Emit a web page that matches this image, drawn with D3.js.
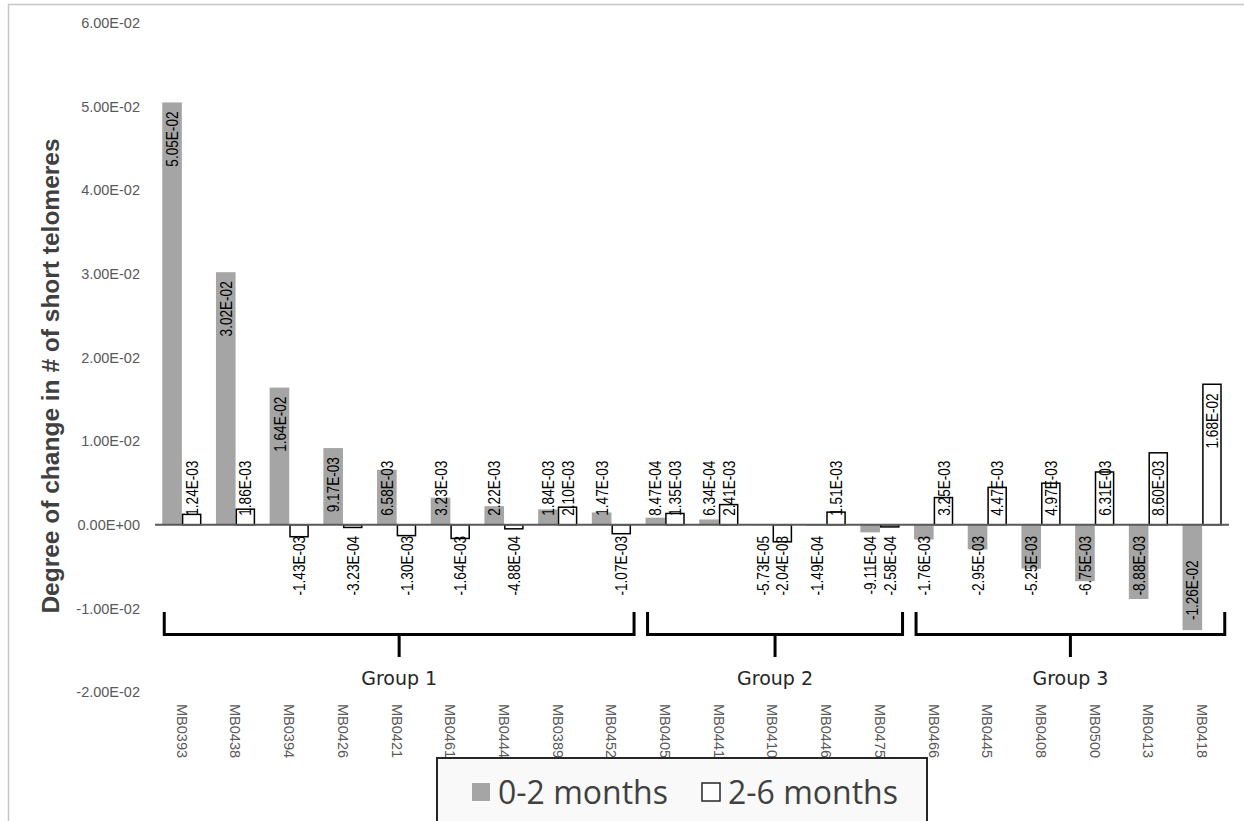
<!DOCTYPE html>
<html>
<head>
<meta charset="utf-8">
<script src="https://cdn.jsdelivr.net/npm/d3@7"></script>
<style>
  html, body { margin: 0; padding: 0; background: #ffffff; }
  svg { display: block; }
</style>
</head>
<body>
<svg id="chart" width="1244" height="821"></svg>
<script>
// ---- data ----
const categories = ["MB0393","MB0438","MB0394","MB0426","MB0421","MB0461","MB0444","MB0389","MB0452",
                    "MB0405","MB0441","MB0410","MB0446","MB0475",
                    "MB0466","MB0445","MB0408","MB0500","MB0413","MB0418"];
const seriesNames = ["0-2 months", "2-6 months"];
const values0to2 = [5.05e-2, 3.02e-2, 1.64e-2, 9.17e-3, 6.58e-3, 3.23e-3, 2.22e-3, 1.84e-3, 1.47e-3,
                    8.47e-4, 6.34e-4, -5.73e-5, -1.49e-4, -9.11e-4,
                    -1.76e-3, -2.95e-3, -5.25e-3, -6.75e-3, -8.88e-3, -1.26e-2];
const values2to6 = [1.24e-3, 1.86e-3, -1.43e-3, -3.23e-4, -1.30e-3, -1.64e-3, -4.88e-4, 2.10e-3, -1.07e-3,
                    1.35e-3, 2.41e-3, -2.04e-3, 1.51e-3, -2.58e-4,
                    3.25e-3, 4.47e-3, 4.97e-3, 6.31e-3, 8.60e-3, 1.68e-2];
const yTicks = [-0.02, -0.01, 0, 0.01, 0.02, 0.03, 0.04, 0.05, 0.06];
const groupNames = ["Group 1", "Group 2", "Group 3"];
const groupFirst = ["MB0393", "MB0405", "MB0466"];
const groupLast  = ["MB0452", "MB0475", "MB0418"];
const yTitle = "Degree of change in # of short telomeres";

// ---- helpers ----
function sci(v) {
  const s = v.toExponential(2).toUpperCase();
  return s.replace(/E([+-])(\d)$/, "E$10$2");
}

const svg = d3.select("#chart");

// outer chart frame (only left & top visible)
svg.append("rect").attr("x", 8.5).attr("y", 4.5).attr("width", 1400).attr("height", 1000)
  .attr("fill", "none").attr("stroke", "#c6c6c6").attr("stroke-width", 1.5);

const x = d3.scaleBand().domain(categories).range([155, 1229]).paddingInner(0.27).paddingOuter(0.135);
const xs = d3.scaleBand().domain(seriesNames).range([0, x.bandwidth()]).padding(0);
const y = d3.scaleLinear().domain([-0.02, 0.06]).range([692, 23]);
const y0 = y(0);

// y tick labels (no axis line)
const yAxis = d3.axisLeft(y).tickValues(yTicks).tickFormat(sci).tickSize(0).tickPadding(0);
const gy = svg.append("g").attr("transform", "translate(140,0)").call(yAxis);
gy.select(".domain").remove();
gy.selectAll("text").attr("fill", "#595959").style("font-family", "'Liberation Sans', Arial, sans-serif")
  .style("font-size", "14.5px");

// y title
svg.append("text").attr("transform", `translate(59,376) rotate(-90)`)
  .attr("text-anchor", "middle").attr("fill", "#404040")
  .style("font-family", "'Liberation Sans', Arial, sans-serif").style("font-size", "24.5px").style("font-weight", "bold")
  .text(yTitle);

const rows = categories.map((c, i) => ({cat: c, vals: [values0to2[i], values2to6[i]]}));
const fills = ["#a5a5a5", "#ffffff"];
const strokes = ["none", "#000000"];

// bars
const gBars = svg.append("g");
rows.forEach(r => {
  r.vals.forEach((v, k) => {
    const bx = x(r.cat) + xs(seriesNames[k]);
    gBars.append("rect")
      .attr("x", bx + (k === 1 ? 0.75 : 0))
      .attr("y", Math.min(y(v), y0))
      .attr("width", xs.bandwidth() - (k === 1 ? 1.5 : 0))
      .attr("height", Math.abs(y(v) - y0))
      .attr("fill", fills[k]).attr("stroke", strokes[k]).attr("stroke-width", 1.5);
  });
});

// zero line
svg.append("line").attr("x1", 155).attr("x2", 1229).attr("y1", y0).attr("y2", y0)
  .attr("stroke", "#595959").attr("stroke-width", 2);

// data labels (condensed)
const squeeze = 0.8;
const gLab = svg.append("g");
rows.forEach(r => {
  r.vals.forEach((v, k) => {
    const cx = x(r.cat) + xs(seriesNames[k]) + xs.bandwidth() / 2;
    const t = gLab.append("text").text(sci(v))
      .attr("fill", "#000")
      .style("font-family", "'Liberation Sans', Arial, sans-serif")
      .style("font-size", "17px")
      .attr("text-anchor", "start").attr("dy", "0.36em");
    const L = t.node().getComputedTextLength() * squeeze;
    let bottom;
    if (v >= 0) {
      const top = y(v) + 9;
      bottom = Math.min(top + L, y0 - 9);
    } else {
      const top = Math.max(y0 + 11, y(v) - 10 - L);
      bottom = top + L;
    }
    t.attr("transform", `translate(${cx},${bottom}) rotate(-90) scale(${squeeze},1)`);
  });
});

// category labels
const gCat = svg.append("g");
categories.forEach(c => {
  gCat.append("text").text(c)
    .attr("transform", `translate(${x(c) + x.bandwidth() / 2},704) rotate(90)`)
    .attr("dy", "0.35em").attr("fill", "#595959")
    .style("font-family", "'Liberation Sans', Arial, sans-serif").style("font-size", "14.5px");
});

// group brackets
const gGrp = svg.append("g");
groupNames.forEach((g, i) => {
  const x1 = x(groupFirst[i]) + 2;
  const x2 = x(groupLast[i]) + x.bandwidth() + 3;
  const xm = (x1 + x2) / 2;
  gGrp.append("path")
    .attr("d", `M${x1},612 V634.5 H${x2} V612 M${xm},634.5 V657`)
    .attr("fill", "none").attr("stroke", "#000").attr("stroke-width", 3);
  gGrp.append("text").text(g).attr("x", xm).attr("y", 685).attr("text-anchor", "middle")
    .attr("fill", "#262626")
    .style("font-family", "'DejaVu Sans', sans-serif").style("font-size", "19px");
});

// legend
const lg = svg.append("g");
lg.append("rect").attr("x", 437).attr("y", 758).attr("width", 490).attr("height", 100)
  .attr("fill", "#f9f9f9").attr("stroke", "#262626").attr("stroke-width", 2);
const legX = [472, 702];
seriesNames.forEach((s, k) => {
  lg.append("rect").attr("x", legX[k]).attr("y", 783).attr("width", 18).attr("height", 18)
    .attr("fill", k === 0 ? "#a5a5a5" : "#ffffff")
    .attr("stroke", k === 0 ? "none" : "#262626").attr("stroke-width", 1.5);
  lg.append("text").text(s).attr("x", legX[k] + 26).attr("y", 804)
    .attr("fill", "#404040")
    .style("font-family", "'Open Sans', sans-serif").style("font-size", "32px");
});
</script>
</body>
</html>
